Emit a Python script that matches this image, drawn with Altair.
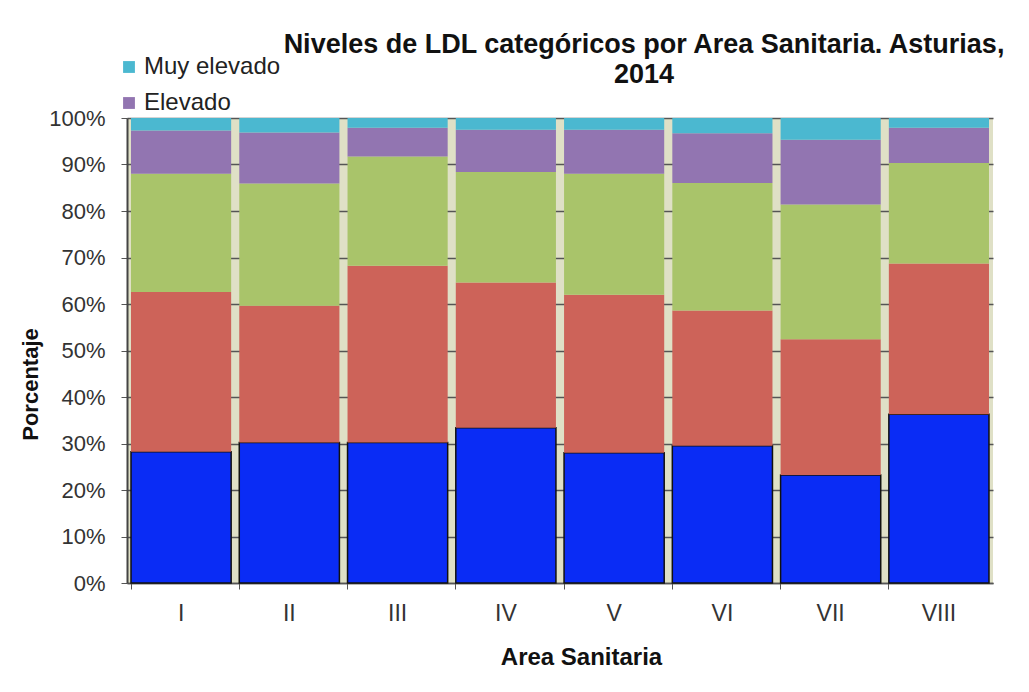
import altair as alt
import pandas as pd

areas = ["I", "II", "III", "IV", "V", "VI", "VII", "VIII"]
niveles = ["Óptimo", "Casi óptimo", "Límite alto", "Elevado", "Muy elevado"]
optimo = [28.2, 30.2, 30.2, 33.4, 28.0, 29.5, 23.2, 36.3]
casi_optimo = [34.4, 29.4, 38.0, 31.2, 34.0, 29.1, 29.2, 32.4]
limite_alto = [25.4, 26.3, 23.5, 23.8, 26.0, 27.4, 29.0, 21.6]
elevado = [9.3, 11.0, 6.2, 9.1, 9.5, 10.7, 13.9, 7.6]
muy_elevado = [2.7, 3.1, 2.1, 2.5, 2.5, 3.3, 4.7, 2.1]
colores = ["#0a2cf5", "#cd6359", "#a9c46a", "#9275b1", "#4bb8d0"]

series = [optimo, casi_optimo, limite_alto, elevado, muy_elevado]
rows = []
for k, (nivel, vals) in enumerate(zip(niveles, series)):
    for area, v in zip(areas, vals):
        rows.append({"Area": area, "Nivel": nivel, "Porcentaje": v, "orden": k})
df = pd.DataFrame(rows)

FONT = "Liberation Sans"

chart = alt.Chart(df).mark_bar(strokeWidth=1.5).encode(
    x=alt.X(
        "Area:N", sort=areas, title="Area Sanitaria",
        scale=alt.Scale(paddingInner=0.075, paddingOuter=0.037),
        axis=alt.Axis(labelAngle=0, bandPosition=0, labelFontSize=23, labelColor="#333333",
                      labelPadding=13, tickSize=6, tickColor="#555555", domainColor="#555555",
                      domainWidth=1.5, titleFontSize=24, titleFontWeight="bold", titleColor="#111111",
                      titlePadding=20, titleX=454, grid=False, labelFont=FONT, titleFont=FONT),
    ),
    y=alt.Y(
        "Porcentaje:Q", stack="normalize", title="Porcentaje",
        scale=alt.Scale(domain=[0, 1]),
        axis=alt.Axis(format=".0%", values=[i / 10 for i in range(11)], labelFontSize=22,
                      labelColor="#333333", labelPadding=16, tickSize=6, tickColor="#555555",
                      domainColor="#444444", domainWidth=2, grid=True, gridColor="#555555",
                      gridWidth=1.5, titleFontSize=22, titleFontWeight="bold", titleColor="#111111",
                      titlePadding=6, titleY=266, labelFont=FONT, titleFont=FONT),
    ),
    color=alt.Color(
        "Nivel:N", scale=alt.Scale(domain=niveles, range=colores),
        legend=alt.Legend(values=["Muy elevado", "Elevado"], orient="none", legendX=-10, legendY=-63,
                          title=None, symbolType="square", symbolSize=140, symbolStrokeWidth=0,
                          labelFontSize=24, labelColor="#222222", labelFont=FONT, rowPadding=12,
                          labelOffset=3),
    ),
    order=alt.Order("orden:Q"),
    stroke=alt.condition(alt.datum.Nivel == "Óptimo", alt.value("#111111"), alt.value("transparent")),
).properties(
    width=866, height=465,
    title=alt.TitleParams(
        text=["Niveles de LDL categóricos por Area Sanitaria. Asturias,", "2014"],
        fontSize=27, font=FONT, fontWeight="bold", color="#111111", anchor="middle",
        dx=84, dy=64, offset=30, lineHeight=30,
    ),
    autosize=alt.AutoSizeParams(type="none"),
    padding={"left": 119, "top": 110, "right": 28, "bottom": 101},
    background="white",
).configure_view(fill="#dfe0c6", strokeWidth=0)

chart.save("out.html", embed_options={"renderer": "svg", "actions": False})
